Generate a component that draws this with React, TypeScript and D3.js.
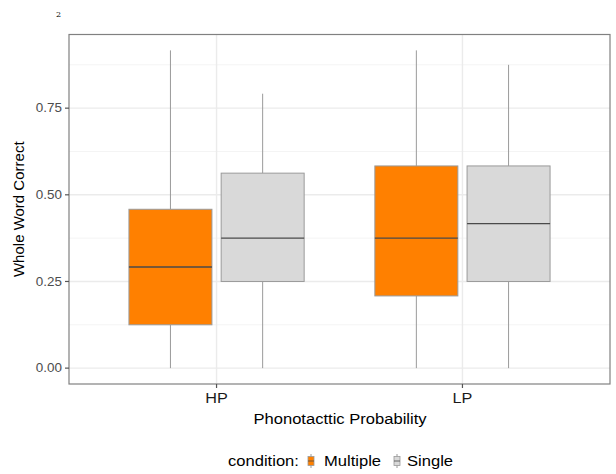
import * as d3 from "d3";

const categories = ["HP", "LP"];
const conditions = ["Multiple", "Single"];
const conditionColors = ["#ff8000", "#d9d9d9"];

// five-number summaries per category, per condition: [min, q1, median, q3, max]
const multipleStats = [
  [0, 0.125, 0.2917, 0.4583, 0.9167],
  [0, 0.2083, 0.375, 0.5833, 0.9167],
];
const singleStats = [
  [0, 0.25, 0.375, 0.5625, 0.7917],
  [0, 0.25, 0.4167, 0.5833, 0.875],
];
const yTicks = [0, 0.25, 0.5, 0.75];
const yMinor = [0.125, 0.375, 0.625, 0.875];

const width = 616;
const height = 474;
const panel = { left: 69, right: 610, top: 34.5, bottom: 384 };
const font = "'Liberation Sans', Arial, Helvetica, sans-serif";
const sx = 1.12; // the text in the reference is a little wider than it is tall

export default function App() {
  const x = d3.scalePoint<string>().domain(categories).range([panel.left, panel.right]).padding(0.6);
  const y = d3.scaleLinear().domain([-0.0458, 0.9625]).range([panel.bottom, panel.top]);
  const step = x.step();
  const boxW = step * 0.3375;
  const dodge = [-0.1875 * step, 0.1875 * step];
  const stats = [multipleStats, singleStats];
  const legendX = [311, 397];
  const legendTextX = [324, 407];

  return (
    <svg width={width} height={height} style={{ position: "absolute", left: 0, top: 0, background: "#fff" }} fontFamily={font}>
      <text x={56} y={17} fontSize={8} fontFamily="'DejaVu Serif', serif" fill="#000">2</text>

      {/* grid */}
      {yMinor.map((t) => (
        <line key={"m" + t} x1={panel.left} x2={panel.right} y1={y(t)} y2={y(t)} stroke="#f4f4f4" strokeWidth={1} />
      ))}
      {yTicks.map((t) => (
        <line key={"g" + t} x1={panel.left} x2={panel.right} y1={y(t)} y2={y(t)} stroke="#ebebeb" strokeWidth={1.4} />
      ))}
      {categories.map((c) => (
        <line key={"v" + c} x1={x(c)} x2={x(c)} y1={panel.top} y2={panel.bottom} stroke="#ebebeb" strokeWidth={1.4} />
      ))}

      {/* boxes */}
      {categories.map((c, ci) =>
        conditions.map((cond, k) => {
          const [mn, q1, med, q3, mx] = stats[k][ci];
          const cx = (x(c) as number) + dodge[k];
          return (
            <g key={c + cond}>
              <line x1={cx} x2={cx} y1={y(q3)} y2={y(mx)} stroke="#9a9a9a" strokeWidth={1} />
              <line x1={cx} x2={cx} y1={y(q1)} y2={y(mn)} stroke="#9a9a9a" strokeWidth={1} />
              <rect x={cx - boxW / 2} y={y(q3)} width={boxW} height={y(q1) - y(q3)} fill={conditionColors[k]} stroke="#9a9a9a" strokeWidth={1} />
              <line x1={cx - boxW / 2} x2={cx + boxW / 2} y1={y(med)} y2={y(med)} stroke="#4a4a4a" strokeWidth={1.3} />
            </g>
          );
        })
      )}

      {/* panel border */}
      <rect x={panel.left} y={panel.top} width={panel.right - panel.left} height={panel.bottom - panel.top} fill="none" stroke="#808080" strokeWidth={1.2} />

      {/* y axis */}
      {yTicks.map((t) => (
        <g key={"yt" + t}>
          <line x1={panel.left - 4} x2={panel.left} y1={y(t)} y2={y(t)} stroke="#555" strokeWidth={1.2} />
          <text transform={`translate(${panel.left - 7},${y(t)}) scale(${sx},1)`} dy="0.35em" textAnchor="end" fontSize={12} fill="#4d4d4d">{t.toFixed(2)}</text>
        </g>
      ))}
      <text transform={`translate(24,${(panel.top + panel.bottom) / 2}) rotate(-90)`} textAnchor="middle" fontSize={15} fill="#000">Whole Word Correct</text>

      {/* x axis */}
      {categories.map((c) => (
        <g key={"xt" + c}>
          <line x1={x(c)} x2={x(c)} y1={panel.bottom} y2={panel.bottom + 4} stroke="#555" strokeWidth={1.2} />
          <text transform={`translate(${x(c)},${panel.bottom + 19}) scale(${sx},1)`} textAnchor="middle" fontSize={14.5} fill="#1a1a1a">{c}</text>
        </g>
      ))}
      <text transform={`translate(${(panel.left + panel.right) / 2 + 0.5},423.5) scale(${sx},1)`} textAnchor="middle" fontSize={14.8} fill="#000">Phonotacttic Probability</text>

      {/* legend */}
      <text transform={`translate(228,461) scale(${sx},1)`} dy="0.35em" fontSize={14.8} fill="#000">condition:</text>
      {conditions.map((cond, k) => (
        <g key={cond}>
          <g transform={`translate(${legendX[k]},461)`}>
            <line x1={0} x2={0} y1={-7} y2={7} stroke="#9a9a9a" strokeWidth={1} />
            <rect x={-3} y={-4.5} width={6} height={9} fill={conditionColors[k]} stroke="#9a9a9a" strokeWidth={0.8} />
            <line x1={-3} x2={3} y1={0} y2={0} stroke="#4a4a4a" strokeWidth={0.8} />
          </g>
          <text transform={`translate(${legendTextX[k]},461) scale(${sx},1)`} dy="0.35em" fontSize={14.8} fill="#000">{cond}</text>
        </g>
      ))}
    </svg>
  );
}
